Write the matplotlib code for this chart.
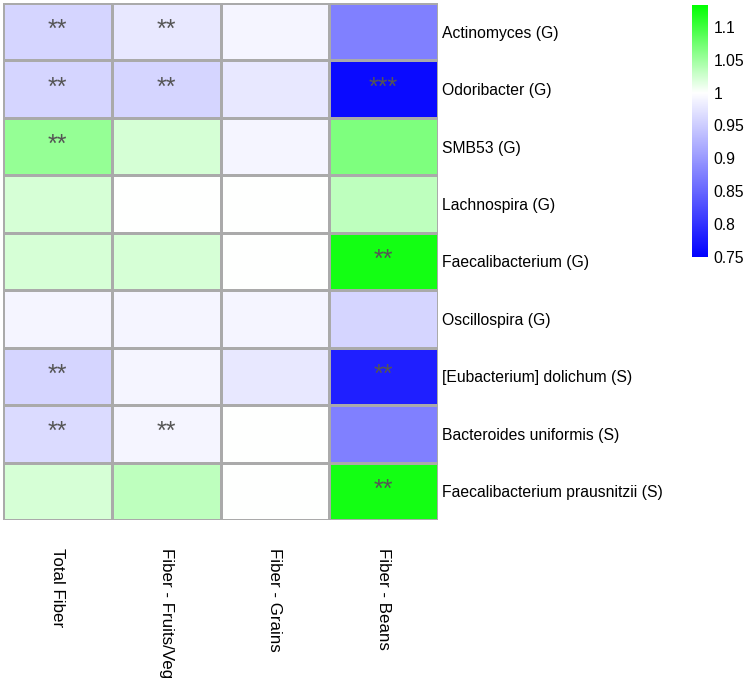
import numpy as np
import matplotlib
matplotlib.use("Agg")
import matplotlib.pyplot as plt
from matplotlib.colors import LinearSegmentedColormap, Normalize

plt.rcParams['font.family'] = ['Liberation Sans', 'DejaVu Sans']

rows = ["Actinomyces (G)", "Odoribacter (G)", "SMB53 (G)", "Lachnospira (G)",
        "Faecalibacterium (G)", "Oscillospira (G)", "[Eubacterium] dolichum (S)",
        "Bacteroides uniformis (S)", "Faecalibacterium prausnitzii (S)"]
cols = ["Total Fiber", "Fiber - Fruits/Veg", "Fiber - Grains", "Fiber - Beans"]

total_fiber = [0.958, 0.958, 1.055, 1.021, 1.021, 0.990, 0.958, 0.965, 1.021]
fruits_veg  = [0.977, 0.958, 1.022, 1.000, 1.021, 0.990, 0.990, 0.990, 1.034]
grains      = [0.990, 0.977, 0.990, 1.000, 1.000, 0.990, 0.977, 1.000, 1.000]
beans       = [0.875, 0.760, 1.067, 1.034, 1.123, 0.958, 0.780, 0.875, 1.123]

stars_total = ["**", "**", "**", "", "", "", "**", "**", ""]
stars_fv    = ["**", "**", "", "", "", "", "", "**", ""]
stars_gr    = ["", "", "", "", "", "", "", "", ""]
stars_be    = ["", "***", "", "", "**", "", "**", "", "**"]

cbar_ticks = [0.75, 0.8, 0.85, 0.9, 0.95, 1, 1.05, 1.1]
vmin, vmax = 0.75, 1.133

data = np.array([total_fiber, fruits_veg, grains, beans]).T
stars = np.array([stars_total, stars_fv, stars_gr, stars_be]).T

mid = (1 - vmin) / (vmax - vmin)
cmap = LinearSegmentedColormap.from_list(
    "bwg", [(0, (0, 0, 1)), (mid, (1, 1, 1)), (1, (0, 1, 0))], N=512)
norm = Normalize(vmin=vmin, vmax=vmax)

fig = plt.figure(figsize=(7.5, 6.83), dpi=100)
ax = fig.add_axes([0.004, 0.2387, 0.58, 0.757])
mesh = ax.pcolormesh(data, cmap=cmap, norm=norm, edgecolors='#aaaaaa', linewidth=1.0)
ax.set_xlim(0, len(cols))
ax.set_ylim(len(rows), 0)
for s in ax.spines.values():
    s.set_visible(False)

for i in range(len(rows)):
    for j in range(len(cols)):
        if stars[i, j]:
            ax.text(j + 0.5, i + 0.47, stars[i, j], ha='center', va='center',
                    fontsize=18, color='#555555')

ax.yaxis.tick_right()
ax.set_yticks(np.arange(len(rows)) + 0.5)
ax.set_yticklabels(rows, fontsize=11.3)
ax.set_xticks(np.arange(len(cols)) + 0.5)
ax.set_xticklabels(cols, rotation=270, fontsize=12.2, va='top', ha='center')
ax.tick_params(axis='y', length=0, pad=3)
ax.tick_params(axis='x', length=0, pad=20)

cax = fig.add_axes([0.9227, 0.6237, 0.0213, 0.369])
cb = fig.colorbar(mesh, cax=cax, ticks=cbar_ticks)
cb.ax.set_yticklabels(["0.75", "0.8", "0.85", "0.9", "0.95", "1", "1.05", "1.1"], fontsize=11.3)
cb.ax.tick_params(length=0, pad=4)
cb.outline.set_visible(False)

fig.savefig("out.png", dpi=100)
